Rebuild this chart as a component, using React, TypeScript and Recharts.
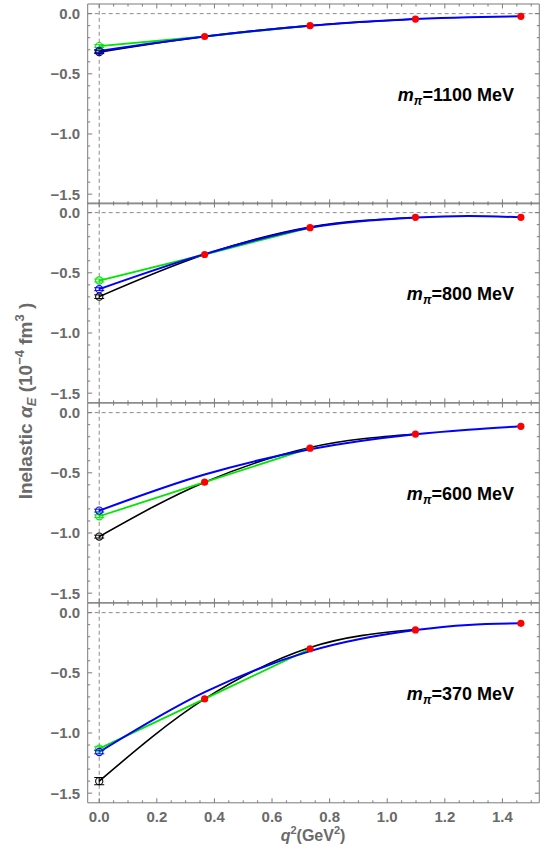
import React from "react";
import {
  ComposedChart,
  Line,
  Scatter,
  XAxis,
  YAxis,
  ReferenceLine,
  ErrorBar,
} from "recharts";

// q^2 (GeV^2) of the lattice points
const latticeQ2 = [0.366, 0.732, 1.098, 1.464];

const pionMasses = ["1100", "800", "600", "370"];

// lattice results (red)
const red1100 = [-0.19, -0.1, -0.045, -0.022];
const red800 = [-0.348, -0.125, -0.039, -0.039];
const red600 = [-0.578, -0.295, -0.178, -0.114];
const red370 = [-0.717, -0.3, -0.144, -0.089];

// extrapolated values at q^2 = 0 : [black, green, blue]
const zero1100 = [-0.32, -0.27, -0.31];
const zero800 = [-0.698, -0.564, -0.636];
const zero600 = [-1.03, -0.861, -0.814];
const zero370 = [-1.4, -1.13, -1.158];
const zeroErr1100 = [0.012, 0.012, 0.012];
const zeroErr800 = [0.015, 0.012, 0.012];
const zeroErr600 = [0.012, 0.012, 0.012];
const zeroErr370 = [0.03, 0.015, 0.015];

// black curves
const blackQ2 = [0, 0.366, 0.732, 1.098];
const black1100 = [-0.32, -0.19, -0.1, -0.045];
const black800 = [-0.698, -0.348, -0.12, -0.04];
const black600 = [-1.03, -0.578, -0.29, -0.178];
const black370 = [-1.4, -0.717, -0.29, -0.14];

// green curves
const greenQ2 = [0, 0.366, 0.732];
const green1100 = [-0.27, -0.19, -0.1];
const green800 = [-0.564, -0.348, -0.125];
const green600 = [-0.861, -0.578, -0.295];
const green370 = [-1.13, -0.717, -0.3];

// blue curves
const blueQ2 = [0, 0.366, 0.732, 1.098, 1.281, 1.464];
const blue1100 = [-0.31, -0.19, -0.1, -0.045, -0.03, -0.022];
const blue800 = [-0.636, -0.345, -0.125, -0.04, -0.027, -0.039];
const blue600 = [-0.814, -0.514, -0.305, -0.18, -0.142, -0.114];
const blue370 = [-1.158, -0.661, -0.32, -0.145, -0.102, -0.089];

const xTicks = [
  0, 0.05, 0.1, 0.15, 0.2, 0.25, 0.3, 0.35, 0.4, 0.45, 0.5, 0.55, 0.6, 0.65,
  0.7, 0.75, 0.8, 0.85, 0.9, 0.95, 1.0, 1.05, 1.1, 1.15, 1.2, 1.25, 1.3, 1.35,
  1.4, 1.45, 1.5,
];
const yTicks = [
  -1.5, -1.4, -1.3, -1.2, -1.1, -1.0, -0.9, -0.8, -0.7, -0.6, -0.5, -0.4, -0.3,
  -0.2, -0.1, 0,
];

const zip = (xs: number[], ys: number[]) => xs.map((x, i) => ({ x, y: ys[i] }));

const panels = [
  { m: pionMasses[0], red: red1100, zero: zero1100, err: zeroErr1100, black: black1100, green: green1100, blue: blue1100 },
  { m: pionMasses[1], red: red800, zero: zero800, err: zeroErr800, black: black800, green: green800, blue: blue800 },
  { m: pionMasses[2], red: red600, zero: zero600, err: zeroErr600, black: black600, green: green600, blue: blue600 },
  { m: pionMasses[3], red: red370, zero: zero370, err: zeroErr370, black: black370, green: green370, blue: blue370 },
];

const FONT = '"Liberation Sans", Arial, sans-serif';
const FRAME = "#7a7a7a";
const TEXT = "#6a6a6a";
const W = 549;
const PLOT_LEFT = 87.7;
const PLOT_RIGHT = 539.3;
const PANEL_TOP = 3.6;
const PANEL_H = 199.8;
const PAD = 5;

const isMajor = (v: number, step: number) =>
  Math.abs(v / step - Math.round(v / step)) < 1e-6;
const fmt = (v: number) =>
  (v < -1e-9 ? "\u2212" : "") + Math.abs(v).toFixed(1);

const colors = ["#000000", "#00e600", "#0000ff"];

export default function App() {
  return (
    <div
      style={{
        position: "absolute",
        left: 0,
        top: 0,
        width: W,
        height: 856,
        background: "#fff",
        fontFamily: FONT,
      }}
    >
      {panels.map((p, i) => {
        const last = i === panels.length - 1;
        const bottomH = PAD + (last ? 50 : 0);
        const h = PANEL_H + PAD + bottomH;
        return (
          <div
            key={p.m}
            style={{ position: "absolute", left: 0, top: PANEL_TOP + PANEL_H * i - PAD }}
          >
            <ComposedChart
              width={W}
              height={h}
              margin={{ top: 0, bottom: 0, left: 0, right: 0 }}
            >
              <XAxis
                xAxisId="b"
                dataKey="x"
                type="number"
                domain={[-0.04, 1.528]}
                allowDataOverflow
                ticks={xTicks}
                interval={0}
                height={bottomH}
                tickSize={0}
                tickMargin={0}
                axisLine={{ stroke: FRAME }}
                tickLine={false}
                tick={(t: any) => {
                  const major = isMajor(t.payload.value, 0.2);
                  return (
                    <g>
                      <line
                        x1={t.x}
                        x2={t.x}
                        y1={t.y}
                        y2={t.y - (major ? 4.5 : 2.5)}
                        stroke={FRAME}
                      />
                      {last && major && (
                        <text
                          x={t.x}
                          y={t.y + 19.5}
                          textAnchor="middle"
                          fontSize={15}
                          fontWeight="bold"
                          fill={TEXT}
                          fontFamily={FONT}
                        >
                          {fmt(t.payload.value)}
                        </text>
                      )}
                    </g>
                  );
                }}
              />
              <XAxis
                xAxisId="t"
                orientation="top"
                dataKey="x"
                type="number"
                domain={[-0.04, 1.528]}
                allowDataOverflow
                ticks={xTicks}
                interval={0}
                height={PAD}
                tickSize={0}
                tickMargin={0}
                axisLine={{ stroke: FRAME }}
                tickLine={false}
                tick={(t: any) => {
                  const major = isMajor(t.payload.value, 0.2);
                  return (
                    <line
                      x1={t.x}
                      x2={t.x}
                      y1={t.y}
                      y2={t.y + (major ? 4.5 : 2.5)}
                      stroke={FRAME}
                    />
                  );
                }}
              />
              <YAxis
                yAxisId="l"
                type="number"
                domain={[-1.58, 0.08]}
                allowDataOverflow
                ticks={yTicks}
                interval={0}
                width={PLOT_LEFT}
                tickSize={0}
                tickMargin={0}
                axisLine={{ stroke: FRAME }}
                tickLine={false}
                tick={(t: any) => {
                  const major = isMajor(t.payload.value, 0.5);
                  return (
                    <g>
                      <line
                        x1={t.x}
                        x2={t.x + (major ? 4.5 : 2.5)}
                        y1={t.y}
                        y2={t.y}
                        stroke={FRAME}
                      />
                      {major && (
                        <text
                          x={t.x - 7.5}
                          y={t.y}
                          dy="0.36em"
                          textAnchor="end"
                          fontSize={15}
                          fontWeight="bold"
                          fill={TEXT}
                          fontFamily={FONT}
                        >
                          {fmt(t.payload.value)}
                        </text>
                      )}
                    </g>
                  );
                }}
              />
              <YAxis
                yAxisId="r"
                orientation="right"
                type="number"
                domain={[-1.58, 0.08]}
                allowDataOverflow
                ticks={yTicks}
                interval={0}
                width={W - PLOT_RIGHT}
                tickSize={0}
                tickMargin={0}
                axisLine={{ stroke: FRAME }}
                tickLine={false}
                tick={(t: any) => {
                  const major = isMajor(t.payload.value, 0.5);
                  return (
                    <line
                      x1={t.x}
                      x2={t.x - (major ? 4.5 : 2.5)}
                      y1={t.y}
                      y2={t.y}
                      stroke={FRAME}
                    />
                  );
                }}
              />
              <ReferenceLine
                xAxisId="b"
                yAxisId="l"
                y={0}
                stroke="#8c8c8c"
                strokeDasharray="4 3"
              />
              <ReferenceLine
                xAxisId="b"
                yAxisId="l"
                x={0}
                stroke="#8c8c8c"
                strokeDasharray="4 3"
              />
              <Line
                xAxisId="b"
                yAxisId="l"
                data={zip(blackQ2, p.black)}
                dataKey="y"
                type="monotone"
                stroke="#000"
                strokeWidth={1.6}
                dot={false}
                isAnimationActive={false}
              />
              <Line
                xAxisId="b"
                yAxisId="l"
                data={zip(greenQ2, p.green)}
                dataKey="y"
                type="linear"
                stroke="#00e600"
                strokeWidth={1.8}
                dot={false}
                isAnimationActive={false}
              />
              <Line
                xAxisId="b"
                yAxisId="l"
                data={zip(blueQ2, p.blue)}
                dataKey="y"
                type="monotone"
                stroke="#0000ff"
                strokeWidth={2}
                dot={false}
                isAnimationActive={false}
              />
              {p.zero.map((v, k) => (
                <Scatter
                  key={k}
                  xAxisId="b"
                  yAxisId="l"
                  data={[{ x: 0, y: v, err: p.err[k] }]}
                  dataKey="y"
                  isAnimationActive={false}
                  shape={(s: any) => (
                    <circle
                      cx={s.cx}
                      cy={s.cy}
                      r={3.6}
                      fill="none"
                      stroke={colors[k]}
                      strokeWidth={1.1}
                    />
                  )}
                >
                  <ErrorBar
                    dataKey="err"
                    direction="y"
                    width={5}
                    stroke={colors[k]}
                    strokeWidth={1}
                    isAnimationActive={false}
                  />
                </Scatter>
              ))}
              <Scatter
                xAxisId="b"
                yAxisId="l"
                data={zip(latticeQ2, p.red)}
                dataKey="y"
                isAnimationActive={false}
                shape={(s: any) => (
                  <circle cx={s.cx} cy={s.cy} r={3.6} fill="#ff0000" />
                )}
              />
            </ComposedChart>
          </div>
        );
      })}
      <svg
        width={W}
        height={856}
        style={{ position: "absolute", left: 0, top: 0, pointerEvents: "none" }}
        fontFamily={FONT}
      >
        {panels.map((p, i) => (
          <text
            key={p.m}
            x={514}
            y={PANEL_TOP + PANEL_H * i + 97}
            textAnchor="end"
            fontSize={18}
            fontWeight="bold"
            fill="#000"
          >
            <tspan fontStyle="italic">m</tspan>
            <tspan fontStyle="italic" fontSize={12} dy={4}>
              π
            </tspan>
            <tspan dy={-4}>={p.m} MeV</tspan>
          </text>
        ))}
        <text
          transform="translate(32,401) rotate(-90)"
          textAnchor="middle"
          fontSize={19}
          fontWeight="bold"
          fill={TEXT}
        >
          Inelastic <tspan fontStyle="italic">α</tspan>
          <tspan fontStyle="italic" fontSize={13} dy={4}>
            E
          </tspan>
          <tspan dy={-4}> (10</tspan>
          <tspan fontSize={13} dy={-8}>
            −4
          </tspan>
          <tspan dy={8}> fm</tspan>
          <tspan fontSize={13} dy={-8}>
            3
          </tspan>
          <tspan dy={8}> )</tspan>
        </text>
        <text
          x={313}
          y={841}
          textAnchor="middle"
          fontSize={16}
          fontWeight="bold"
          fill={TEXT}
        >
          <tspan fontStyle="italic">q</tspan>
          <tspan fontSize={11} dy={-7}>
            2
          </tspan>
          <tspan dy={7}>(GeV</tspan>
          <tspan fontSize={11} dy={-7}>
            2
          </tspan>
          <tspan dy={7}>)</tspan>
        </text>
      </svg>
    </div>
  );
}
